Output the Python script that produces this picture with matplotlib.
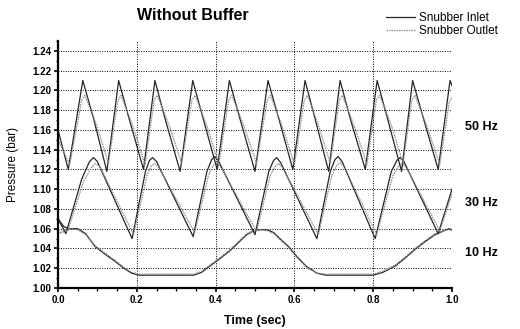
import matplotlib
matplotlib.use("Agg")
import matplotlib.pyplot as plt
from matplotlib.ticker import MultipleLocator

plt.rcParams['font.family'] = ['Liberation Sans', 'DejaVu Sans']

# ---- data ----
# 50 Hz
t50_in = [0.000, 0.026, 0.063, 0.090, 0.124, 0.154, 0.180, 0.217, 0.246, 0.272, 0.310, 0.342,
          0.368, 0.404, 0.435, 0.462, 0.500, 0.533, 0.560, 0.596, 0.627, 0.652, 0.687, 0.716,
          0.742, 0.780, 0.810, 0.836, 0.872, 0.900, 0.928, 0.965, 0.995, 1.000]
p50_in = [1.160, 1.120, 1.210, 1.172, 1.118, 1.210, 1.172, 1.120, 1.210, 1.171, 1.118, 1.210,
          1.172, 1.120, 1.210, 1.171, 1.118, 1.210, 1.172, 1.120, 1.210, 1.172, 1.118, 1.210,
          1.171, 1.120, 1.210, 1.172, 1.118, 1.210, 1.171, 1.120, 1.210, 1.205]
t50_out = [0.000, 0.030, 0.060, 0.068, 0.098, 0.128, 0.152, 0.160, 0.190, 0.221, 0.244, 0.252,
           0.282, 0.314, 0.340, 0.348, 0.378, 0.408, 0.433, 0.441, 0.471, 0.504, 0.531, 0.539,
           0.569, 0.600, 0.625, 0.633, 0.661, 0.691, 0.714, 0.722, 0.752, 0.784, 0.808, 0.816,
           0.846, 0.876, 0.898, 0.906, 0.936, 0.969, 0.993, 1.000]
p50_out = [1.150, 1.125, 1.190, 1.195, 1.165, 1.126, 1.190, 1.195, 1.164, 1.125, 1.190, 1.195,
           1.165, 1.126, 1.190, 1.195, 1.164, 1.125, 1.190, 1.195, 1.165, 1.126, 1.190, 1.195,
           1.164, 1.125, 1.190, 1.195, 1.165, 1.126, 1.190, 1.195, 1.164, 1.125, 1.190, 1.195,
           1.165, 1.126, 1.190, 1.195, 1.164, 1.125, 1.188, 1.193]

# 30 Hz
t30_in = [0.000, 0.020, 0.060, 0.080, 0.090, 0.100, 0.188, 0.222, 0.232, 0.240, 0.250, 0.343,
          0.378, 0.390, 0.398, 0.408, 0.500, 0.535, 0.547, 0.555, 0.565, 0.657, 0.691, 0.703,
          0.711, 0.721, 0.805, 0.846, 0.860, 0.868, 0.878, 0.965, 1.000]
p30_in = [1.070, 1.055, 1.110, 1.128, 1.132, 1.128, 1.050, 1.118, 1.129, 1.132, 1.128, 1.052,
          1.118, 1.130, 1.133, 1.128, 1.054, 1.118, 1.129, 1.132, 1.127, 1.050, 1.118, 1.130,
          1.133, 1.128, 1.050, 1.118, 1.129, 1.132, 1.128, 1.055, 1.100]
t30_out = [0.000, 0.025, 0.065, 0.085, 0.095, 0.106, 0.192, 0.226, 0.236, 0.245, 0.256, 0.347,
           0.382, 0.394, 0.403, 0.414, 0.504, 0.539, 0.551, 0.560, 0.571, 0.661, 0.695, 0.707,
           0.716, 0.727, 0.809, 0.850, 0.864, 0.873, 0.884, 0.969, 1.000]
p30_out = [1.055, 1.058, 1.108, 1.122, 1.126, 1.123, 1.054, 1.114, 1.123, 1.126, 1.122, 1.056,
           1.114, 1.124, 1.127, 1.122, 1.057, 1.114, 1.123, 1.126, 1.121, 1.054, 1.114, 1.124,
           1.127, 1.122, 1.054, 1.114, 1.123, 1.126, 1.122, 1.058, 1.095]

# 10 Hz
t10_in = [0.000, 0.015, 0.030, 0.050, 0.070, 0.094, 0.120, 0.145, 0.167, 0.187, 0.205, 0.250,
          0.300, 0.345, 0.365, 0.378, 0.395, 0.415, 0.437, 0.458, 0.479, 0.497, 0.513, 0.530,
          0.548, 0.563, 0.585, 0.606, 0.630, 0.657, 0.680, 0.740, 0.800, 0.825, 0.840, 0.855,
          0.880, 0.906, 0.932, 0.957, 0.980, 0.992, 1.000]
p10_in = [1.070, 1.062, 1.060, 1.060, 1.055, 1.042, 1.034, 1.027, 1.020, 1.015, 1.013, 1.013,
          1.013, 1.013, 1.016, 1.020, 1.025, 1.031, 1.038, 1.046, 1.054, 1.058, 1.059, 1.059,
          1.056, 1.050, 1.042, 1.032, 1.022, 1.015, 1.013, 1.013, 1.013, 1.016, 1.019, 1.022,
          1.030, 1.039, 1.047, 1.054, 1.058, 1.060, 1.059]
t10_out = [0.000, 0.015, 0.030, 0.050, 0.070, 0.094, 0.120, 0.145, 0.167, 0.187, 0.205, 0.250,
           0.300, 0.345, 0.365, 0.378, 0.395, 0.415, 0.437, 0.458, 0.479, 0.497, 0.513, 0.530,
           0.548, 0.563, 0.585, 0.606, 0.630, 0.657, 0.680, 0.740, 0.800, 0.825, 0.840, 0.855,
           0.880, 0.906, 0.932, 0.957, 0.980, 0.992, 1.000]
p10_out = [1.055, 1.058, 1.060, 1.059, 1.054, 1.043, 1.035, 1.028, 1.021, 1.016, 1.014, 1.014,
           1.014, 1.014, 1.017, 1.021, 1.026, 1.032, 1.039, 1.047, 1.055, 1.058, 1.059, 1.058,
           1.055, 1.049, 1.041, 1.031, 1.021, 1.015, 1.014, 1.014, 1.014, 1.017, 1.020, 1.023,
           1.031, 1.040, 1.048, 1.055, 1.058, 1.059, 1.058]

x_ticks = [0.0, 0.2, 0.4, 0.6, 0.8, 1.0]
x_labels = ["0.0", "0.2", "0.4", "0.6", "0.8", "1.0"]
y_ticks = [1.00, 1.02, 1.04, 1.06, 1.08, 1.10, 1.12, 1.14, 1.16, 1.18, 1.20, 1.22, 1.24]
y_labels = ["1.00", "1.02", "1.04", "1.06", "1.08", "1.10", "1.12", "1.14", "1.16",
            "1.18", "1.20", "1.22", "1.24"]
freq_labels = ["50 Hz", "30 Hz", "10 Hz"]
freq_y = [1.163, 1.086, 1.035]
series_names = ["Snubber Inlet", "Snubber Outlet"]

# ---- figure ----
fig = plt.figure(figsize=(5.2, 3.29), dpi=100)
ax = fig.add_axes([58/520, 1 - 288/329, (452-58)/520, (288-41)/329])

in_style = dict(color='#262626', lw=0.9, linestyle='-')
out_style = dict(color='#8a8a8a', lw=0.9, linestyle=(0, (1.2, 0.8)))

l_in, = ax.plot(t10_in, p10_in, label=series_names[0], **in_style)
l_out, = ax.plot(t10_out, p10_out, label=series_names[1], **out_style)
ax.plot(t30_in, p30_in, **in_style)
ax.plot(t30_out, p30_out, **out_style)
ax.plot(t50_in, p50_in, **in_style)
ax.plot(t50_out, p50_out, **out_style)

ax.set_xlim(0, 1.0)
ax.set_ylim(1.0, 1.25)
ax.set_xticks(x_ticks)
ax.set_xticklabels(x_labels)
ax.set_yticks(y_ticks)
ax.set_yticklabels(y_labels)
ax.xaxis.set_minor_locator(MultipleLocator(0.05))
ax.yaxis.set_minor_locator(MultipleLocator(0.01))

for s in ['top', 'right']:
    ax.spines[s].set_visible(False)
for s in ['left', 'bottom']:
    ax.spines[s].set_linewidth(1.6)

ax.tick_params(axis='both', which='major', direction='out', length=3, width=1.2,
               labelsize=7, pad=2)
ax.tick_params(axis='both', which='minor', direction='out', length=1.8, width=0.9)
for lab in ax.get_xticklabels() + ax.get_yticklabels():
    lab.set_fontweight('bold')

# grid
for yv in y_ticks[1:]:
    ax.axhline(yv, color='black', lw=0.7, linestyle=(0, (1, 1.5)), zorder=0)
for xv in x_ticks[1:-1]:
    ax.axvline(xv, color='black', lw=0.7, linestyle=(0, (1, 1.5)), zorder=0)

ax.set_xlabel("Time (sec)", fontsize=9, fontweight='bold')
ax.xaxis.set_label_coords(0.5, -(321 - 288) / 247, transform=ax.transAxes)
ax.xaxis.label.set_va('center')
ax.set_ylabel("Pressure (bar)", fontsize=8.5)
ax.yaxis.set_label_coords(-(58 - 13) / 394, 0.5, transform=ax.transAxes)
ax.yaxis.label.set_va('center')

fig.text(193/520, 1 - 15/329, "Without Buffer", ha='center', va='center',
         fontsize=11.5, fontweight='bold')

for lab, yv in zip(freq_labels, freq_y):
    ax.text(1.074, yv, lab, ha='center', va='center', fontsize=9, fontweight='bold',
            transform=ax.get_yaxis_transform(), clip_on=False)

fig.legend(handles=[l_in, l_out], labels=series_names, loc='upper left',
           bbox_to_anchor=(378/520, 1 - 4/329), frameon=False, fontsize=8.5,
           handlelength=2.4, handletextpad=0.4, labelspacing=0.05, borderpad=0.2)

fig.savefig("out.png", dpi=100)
